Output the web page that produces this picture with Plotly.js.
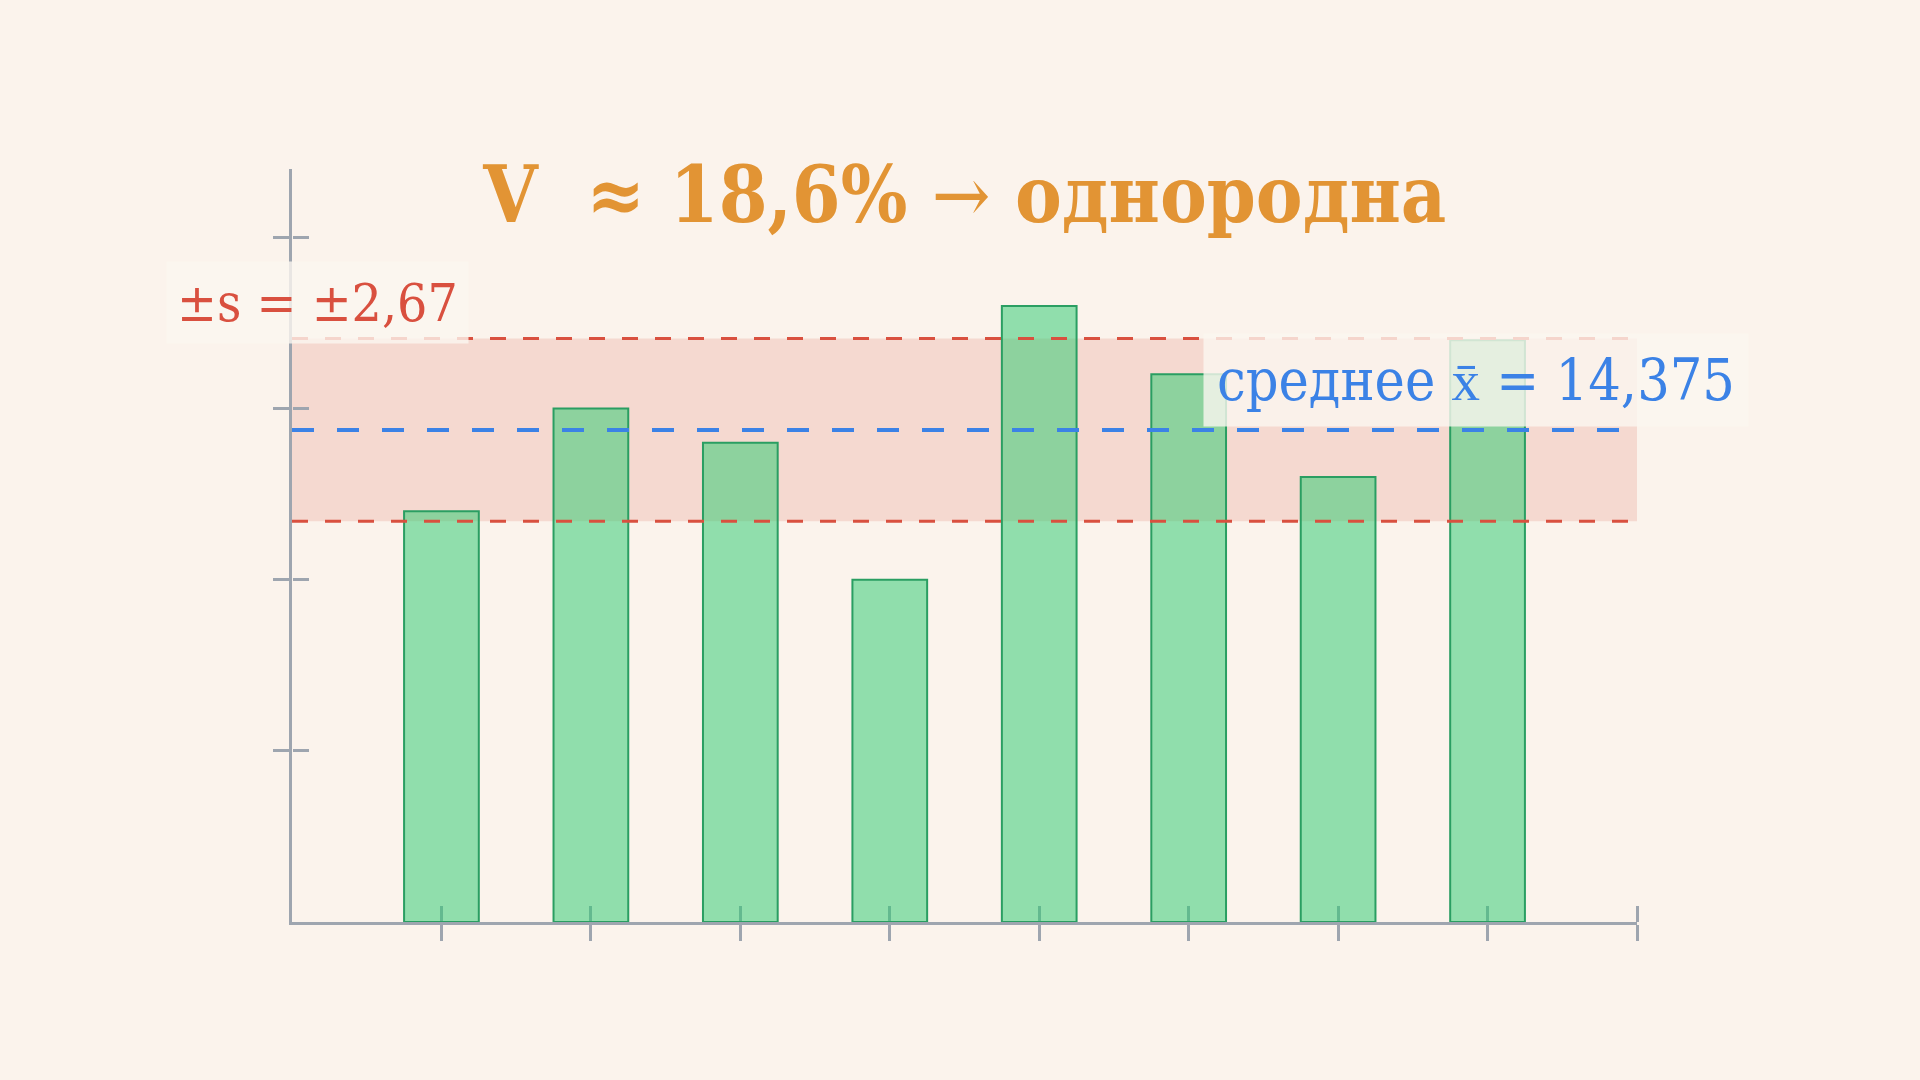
<!DOCTYPE html>
<html>
<head>
<meta charset="utf-8">
<script src="https://cdn.plot.ly/plotly-3.0.1.min.js"></script>
<style>
  html, body { margin: 0; padding: 0; background: #fbf3ec; }
  #chart { width: 1920px; height: 1080px; }
</style>
</head>
<body>
<div id="chart"></div>
<script>
// ---- data ----
const categories = [1, 2, 3, 4, 5, 6, 7, 8];
const values = [12, 15, 14, 10, 18, 16, 13, 17];
const meanValue = 14.375;
const sdValue = 2.67;
const xTickVals = [1, 2, 3, 4, 5, 6, 7, 8, 9];
const yTickVals = [5, 10, 15, 20];
const titleParts = ["V\u00a0 ≈ 18,6%", "→", "однородна"];
const sdLabel = "±s = ±2,67";
const meanLabelParts = ["среднее", "x\u0304", "= 14,375"];

// ---- styles ----
const axisColor = "#9ea5af";
const red = "#d9503f";
const blue = "#3b82e6";
const orange = "#e29434";
const serif = "DejaVu Serif Condensed, DejaVu Serif, serif";

const bars = {
  type: "bar",
  x: categories,
  y: values,
  width: 0.5,
  marker: { color: "rgba(46,204,113,0.52)", line: { color: "#2a9e62", width: 2 } },
  hoverinfo: "skip"
};
// carrier trace so the second (mirrored-tick) axes get drawn; draws nothing
const tickCarrier = {
  type: "scatter", mode: "none", x: categories, y: values,
  xaxis: "x2", yaxis: "y2", hoverinfo: "skip", showlegend: false
};

const baseX = {
  range: [0, 9], tickvals: xTickVals, showticklabels: false,
  showgrid: false, zeroline: false, tickwidth: 3, tickcolor: axisColor,
  ticklen: 16, ticks: "outside", layer: "below traces", fixedrange: true
};
const baseY = {
  range: [0, 22], tickvals: yTickVals, showticklabels: false,
  showgrid: false, zeroline: false, tickwidth: 3, tickcolor: axisColor,
  ticklen: 16, ticks: "outside", layer: "below traces", fixedrange: true
};

const layout = {
  width: 1920, height: 1080,
  margin: { l: 292, r: 283, t: 169, b: 158, pad: 0 },
  paper_bgcolor: "#fbf3ec",
  plot_bgcolor: "rgba(0,0,0,0)",
  showlegend: false,
  title: {
    text: titleParts[0] + " <span style='font-weight:normal'>" + titleParts[1] + "</span> " + titleParts[2],
    font: { family: serif, size: 78, color: orange, weight: "bold" },
    x: 0.5025, xanchor: "center",
    y: 1 - 195 / 1080, yanchor: "middle", yref: "container"
  },
  xaxis: Object.assign({}, baseX, { showline: true, linewidth: 3, linecolor: axisColor }),
  xaxis2: Object.assign({}, baseX, { overlaying: "x", anchor: "free", position: 0, side: "top", showline: false }),
  yaxis: Object.assign({}, baseY, { showline: true, linewidth: 3, linecolor: axisColor }),
  yaxis2: Object.assign({}, baseY, { overlaying: "y", anchor: "free", position: 0, side: "right", showline: false }),
  shapes: [
    { type: "rect", xref: "paper", yref: "y", x0: 0, x1: 1,
      y0: meanValue - sdValue, y1: meanValue + sdValue,
      fillcolor: "rgba(220,90,70,0.17)", line: { width: 0 }, layer: "below" },
    { type: "line", xref: "paper", yref: "y", x0: 0, x1: 1,
      y0: meanValue + sdValue, y1: meanValue + sdValue,
      line: { color: red, width: 3, dash: "16px,17px" }, layer: "above" },
    { type: "line", xref: "paper", yref: "y", x0: 0, x1: 1,
      y0: meanValue - sdValue, y1: meanValue - sdValue,
      line: { color: red, width: 3, dash: "16px,17px" }, layer: "above" },
    { type: "line", xref: "paper", yref: "y", x0: 0, x1: 1,
      y0: meanValue, y1: meanValue,
      line: { color: blue, width: 4, dash: "22px,23px" }, layer: "above" }
  ],
  annotations: [
    { text: sdLabel, xref: "x", yref: "y", x: 0.17, y: 18.1,
      showarrow: false, xanchor: "center", yanchor: "middle",
      font: { family: serif, size: 53, color: red },
      bgcolor: "rgba(251,246,240,0.8)", borderpad: 10 },
    { text: meanLabelParts[0] + " <span style='font-family:Liberation Serif'>" + meanLabelParts[1] + "</span> " + meanLabelParts[2],
      xref: "x", yref: "y", x: 7.92, y: 15.85,
      showarrow: false, xanchor: "center", yanchor: "middle",
      font: { family: serif, size: 57, color: blue },
      bgcolor: "rgba(251,246,240,0.8)", borderpad: 13 }
  ]
};

Plotly.newPlot("chart", [bars, tickCarrier], layout, { staticPlot: true, displayModeBar: false });
</script>
</body>
</html>
